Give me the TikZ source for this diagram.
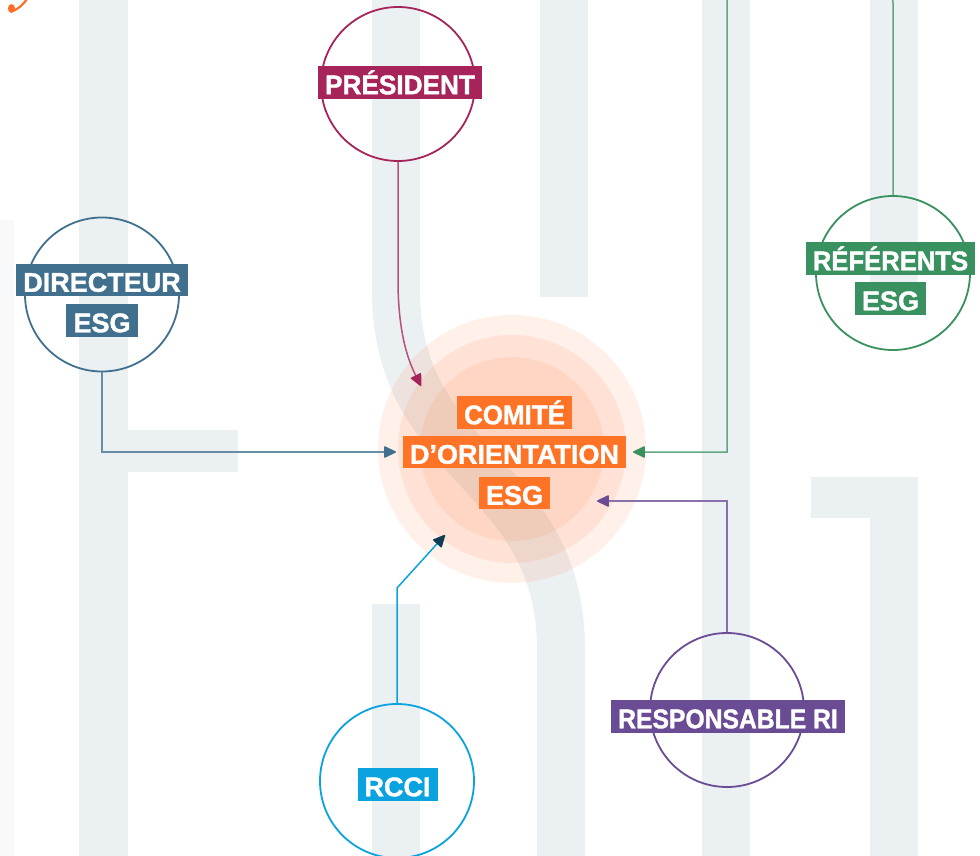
\documentclass[tikz,border=0pt]{standalone}
\usepackage{fontspec}
\setmainfont{Liberation Sans}
\newfontfamily\labfont{Liberation Sans}[BoldFeatures={FakeBold=1.4}]
\usepackage{graphicx}
\usetikzlibrary{arrows.meta}
\definecolor{stripe}{HTML}{EBF0F3}
\definecolor{faint}{HTML}{F7F9FA}
\definecolor{cpres}{HTML}{A6245A}
\definecolor{cdir}{HTML}{41708F}
\definecolor{cref}{HTML}{38915F}
\definecolor{cresp}{HTML}{6A4C94}
\definecolor{crcci}{HTML}{0AA3DF}
\definecolor{cnavy}{HTML}{0E3C55}
\definecolor{corange}{HTML}{FF6E28}
\definecolor{cbox}{HTML}{FF7327}
\newcommand{\hsc}[2]{\scalebox{#1}[1]{#2}}
\begin{document}
\begin{tikzpicture}[x=1pt,y=-1pt,
  roundel/.style={circle, draw=#1, line width=1.8pt, minimum size=154pt, inner sep=0pt},
  lab/.style={fill=#1, text=white, inner xsep=7pt, inner ysep=0pt, text height=28pt, text depth=4.5pt,
    font=\labfont\bfseries\fontsize{27}{27}\selectfont},
  conn/.style={line width=1.5pt, draw=#1!80!white, -{Triangle[length=13pt,width=12pt,round,color=#1]}},
  halo/.style={circle, fill=corange, fill opacity=0.1, inner sep=0pt, minimum size=#1}
]
\useasboundingbox (0,0) rectangle (980,856);
\fill[white] (0,0) rectangle (980,856);
% background stripes
\fill[faint] (0,220) rectangle (14,856);
\fill[stripe] (79,0) rectangle (128,856);
\fill[stripe] (128,430) rectangle (238,472);
\draw[stripe, line width=48pt] (396,-5) -- (396,290) .. controls (396,470) and (561,470) .. (561,650) -- (561,861);
\fill[stripe] (540,0) rectangle (588,297);
\fill[stripe] (372,604) rectangle (420,856);
\fill[stripe] (702,0) rectangle (750,856);
\fill[stripe] (870,0) rectangle (918,283);
\fill[stripe] (811,477) rectangle (918,518);
\fill[stripe] (870,518) rectangle (918,856);
% orange swoosh top-left
\fill[corange] (11.5,8.5) ellipse (3.6pt and 4.4pt);
\draw[corange, line width=2.2pt, line cap=round] (13,11) .. controls (18,9) and (23,5) .. (27,-1);
% central halo
\node[halo=268pt] (comite) at (512,449) {};
\node[halo=228pt] (comite2) at (512,449) {};
\node[halo=184pt] (comite3) at (512,449) {};
% arrow tip coordinates
\coordinate (prestip) at (421,386);
\coordinate (dirtip) at (396,452);
\coordinate (reftip) at (633,452);
\coordinate (resptip) at (597,501);
\coordinate (rccitip) at (445,535);
% roundels
\node[roundel=cpres] (presc) at (398,84) {};
\node[roundel=cdir] (dirc) at (102,294.5) {};
\node[roundel=cref] (refc) at (893,273) {};
\node[roundel=cresp] (respc) at (727,710) {};
\node[roundel=crcci] (rccic) at (397,781) {};
% connectors
\draw[conn=cpres] (presc.south) -- (398,280) .. controls (398,335) and (409,362) .. (prestip);
\draw[conn=cdir] (dirc.south) |- (dirtip);
\draw[conn=cref] (refc.north) [rounded corners=28pt]-- (893,-25) -- (727,-25) [sharp corners]-- (727,452) -- (reftip);
\draw[conn=cresp] (respc.north) |- (resptip);
\draw[line width=1.5pt, draw=crcci, -{Triangle[length=13pt,width=12pt,round,color=cnavy]}] (rccic.north) -- (397,588) -- (rccitip);
% labels
\node[lab=cpres] (presl) at (400,82.5) {\hsc{0.97}{PRÉSIDENT}};
\node[lab=cdir] (dirl1) at (102,280) {DIRECTEUR};
\node[lab=cdir] (dirl2) at (102,320.5) {ESG};
\node[lab=cref] (refl1) at (890.5,258.5) {\hsc{0.95}{RÉFÉRENTS}};
\node[lab=cref] (refl2) at (890.5,298.5) {ESG};
\node[lab=cresp] (respl) at (728,716.5) {\hsc{0.915}{RESPONSABLE RI}};
\node[lab=crcci] (rccil) at (397.5,784.5) {RCCI};
\node[lab=cbox] (coml1) at (514.5,412.5) {\hsc{0.96}{COMITÉ}};
\node[lab=cbox] (coml2) at (514.5,452) {D’ORIENTATION};
\node[lab=cbox] (coml3) at (514.5,493) {ESG};
\end{tikzpicture}
\end{document}
